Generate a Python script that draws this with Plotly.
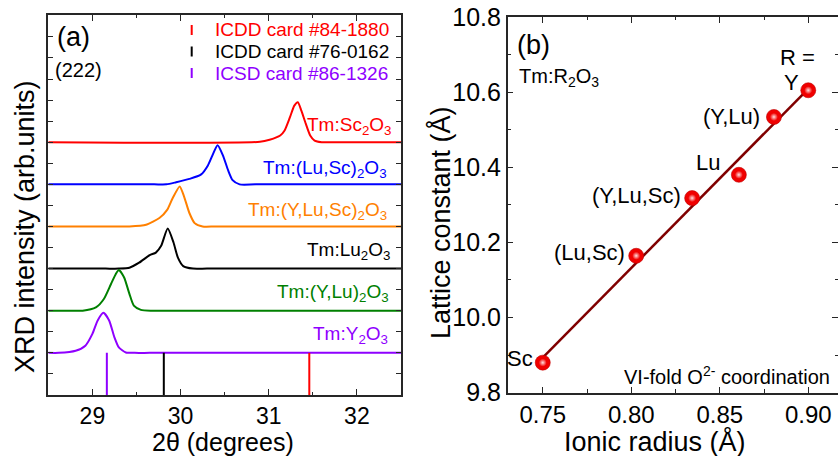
import numpy as np
import plotly.graph_objects as go

W, H = 838, 456
FONT = "Arial, Liberation Sans, sans-serif"

# ---------------- (a) XRD (222) reflection ----------------
sample_names = [
    "Tm:Sc<sub>2</sub>O<sub>3</sub>",
    "Tm:(Lu,Sc)<sub>2</sub>O<sub>3</sub>",
    "Tm:(Y,Lu,Sc)<sub>2</sub>O<sub>3</sub>",
    "Tm:Lu<sub>2</sub>O<sub>3</sub>",
    "Tm:(Y,Lu)<sub>2</sub>O<sub>3</sub>",
    "Tm:Y<sub>2</sub>O<sub>3</sub>",
]
sample_colors = ["#ff0000", "#0000ff", "#ff8000", "#000000", "#008000", "#8f00ff"]
sample_offsets = [6, 5, 4, 3, 2, 1]

two_theta_sc = [28.5, 30.9, 31.01, 31.13, 31.18, 31.24, 31.29, 31.33, 31.37, 31.42, 31.47, 31.52, 31.6, 31.8, 32.5]
int_sc = [0, 0.01, 0.06, 0.16, 0.28, 0.59, 0.87, 0.95, 0.75, 0.44, 0.16, 0.04, 0.0, 0.0, 0.0]

two_theta_lusc = [28.5, 29.7, 29.84, 29.95, 30.10, 30.23, 30.31, 30.37, 30.42, 30.48, 30.54, 30.59, 30.67, 30.85, 32.5]
int_lusc = [0, 0, 0.0, 0.05, 0.13, 0.23, 0.45, 0.73, 0.93, 0.69, 0.33, 0.10, 0.0, 0.0, 0.0]

two_theta_ylusc = [28.5, 29.3, 29.42, 29.61, 29.76, 29.85, 29.91, 29.99, 30.04, 30.10, 30.16, 30.25, 30.4, 32.5]
int_ylusc = [0, 0, 0.0, 0.04, 0.2, 0.4, 0.67, 0.95, 0.71, 0.32, 0.08, 0.0, 0.0, 0.0]

two_theta_lu = [28.5, 29.15, 29.30, 29.42, 29.53, 29.65, 29.72, 29.78, 29.854, 29.92, 29.97, 30.03, 30.14, 30.3, 32.5]
int_lu = [0, 0, 0.0, 0.02, 0.14, 0.32, 0.38, 0.54, 0.95, 0.62, 0.26, 0.06, 0.0, 0.0, 0.0]

two_theta_ylu = [28.5, 28.75, 28.89, 29.04, 29.13, 29.21, 29.27, 29.30, 29.36, 29.42, 29.47, 29.55, 29.67, 29.85, 32.5]
int_ylu = [0, 0, 0.0, 0.08, 0.28, 0.63, 0.89, 0.97, 0.79, 0.40, 0.12, 0.02, 0.0, 0.0, 0.0]

two_theta_y = [28.5, 28.62, 28.81, 28.92, 29.00, 29.06, 29.125, 29.19, 29.25, 29.30, 29.38, 29.48, 29.65, 32.5]
int_y = [0, 0.0, 0.05, 0.17, 0.45, 0.77, 0.95, 0.77, 0.37, 0.13, 0.01, 0.0, 0.0, 0.0]

sample_two_theta = [two_theta_sc, two_theta_lusc, two_theta_ylusc, two_theta_lu, two_theta_ylu, two_theta_y]
sample_intensity = [int_sc, int_lusc, int_ylusc, int_lu, int_ylu, int_y]

# reference card positions of the (222) line
card_names = ["ICDD card #84-1880", "ICDD card #76-0162", "ICSD card #86-1326"]
card_two_theta = [31.46, 29.81, 29.164]
card_height = [1.0, 1.0, 1.0]
card_colors = ["#ff0000", "#000000", "#8f00ff"]

# ---------------- (b) lattice constant vs ionic radius ----------------
host_labels = ["Sc", "(Lu,Sc)", "(Y,Lu,Sc)", "Lu", "(Y,Lu)", "Y"]
ionic_radius = [0.750, 0.8028, 0.8344, 0.8608, 0.8806, 0.900]
lattice_const = [9.880, 10.1645, 10.318, 10.380, 10.534, 10.605]


def paper(px, py):
    return px / W, 1 - py / H


fig = go.Figure()

# XRD patterns, stacked by offset
for name, col, off, tt, inten in zip(sample_names, sample_colors, sample_offsets,
                                     sample_two_theta, sample_intensity):
    fig.add_trace(go.Scatter(
        x=tt, y=[off + v for v in inten], mode="lines",
        line=dict(color=col, width=2, shape="spline", smoothing=0.6),
        xaxis="x", yaxis="y", showlegend=False, hoverinfo="skip"))

# reference card stems
for pos, h, col in zip(card_two_theta, card_height, card_colors):
    fig.add_trace(go.Scatter(
        x=[pos, pos], y=[0, h], mode="lines",
        line=dict(color=col, width=2),
        xaxis="x", yaxis="y", showlegend=False, hoverinfo="skip"))

# linear fit of lattice constant
slope, intercept = np.polyfit(ionic_radius, lattice_const, 1)
fit_x = np.array([min(ionic_radius), max(ionic_radius)])
fig.add_trace(go.Scatter(
    x=fit_x, y=slope * fit_x + intercept, mode="lines",
    line=dict(color="#800000", width=2.5),
    xaxis="x2", yaxis="y2", showlegend=False, hoverinfo="skip"))

# shaded spheres: solid ball plus a bright radial core
fig.add_trace(go.Scatter(
    x=ionic_radius, y=lattice_const, mode="markers",
    marker=dict(size=15, color="#f00000", line=dict(color="#c00000", width=0.6)),
    xaxis="x2", yaxis="y2", showlegend=False, hoverinfo="skip"))
fig.add_trace(go.Scatter(
    x=ionic_radius, y=lattice_const, mode="markers",
    marker=dict(size=8, color="#f00000", line=dict(width=0),
                gradient=dict(type="radial", color="#ffe0e0")),
    xaxis="x2", yaxis="y2", showlegend=False, hoverinfo="skip"))

axis_common = dict(
    showline=True, linecolor="#262626", linewidth=1.5, mirror="ticks",
    ticks="inside", tickcolor="#262626", tickwidth=1.3, ticklen=6,
    showgrid=False, zeroline=False, automargin=False,
)

fig.update_layout(
    width=W, height=H,
    margin=dict(l=0, r=0, t=0, b=0, pad=0, autoexpand=False),
    paper_bgcolor="white", plot_bgcolor="white",
    font=dict(family=FONT, color="black"),
    xaxis=dict(axis_common, domain=[48.3 / W, 401 / W], range=[28.5, 32.5],
               dtick=1, tick0=29, tickfont=dict(size=23), anchor="y", ticklabelstandoff=0,
               minor=dict(dtick=0.5, ticklen=3.5, ticks="inside", tickcolor="#262626")),
    yaxis=dict(axis_common, domain=[1 - 395 / H, 1 - 15 / H], range=[0, 9.02],
               dtick=0.5, tick0=0, ticklen=5, showticklabels=False, anchor="x"),
    xaxis2=dict(axis_common, domain=[507.7 / W, 1.0], range=[0.7302, 0.9168],
                dtick=0.05, tick0=0.75, tickformat=".2f", tickfont=dict(size=24), anchor="y2",
                ticklabelstandoff=0,
                minor=dict(dtick=0.025, ticklen=3.5, ticks="inside", tickcolor="#262626")),
    yaxis2=dict(axis_common, domain=[1 - 392.7 / H, 1 - 17 / H], range=[9.8, 10.8],
                dtick=0.2, tick0=9.8, tickformat=".1f", tickfont=dict(size=25), anchor="x2",
                minor=dict(dtick=0.1, ticklen=3.5, ticks="inside", tickcolor="#262626")),
)

ann = []


def text_at(px, py, text, size, color="black", xanchor="center", yanchor="middle", angle=0):
    x, y = paper(px, py)
    ann.append(dict(x=x, y=y, xref="paper", yref="paper", text=text, showarrow=False,
                    xanchor=xanchor, yanchor=yanchor, textangle=angle,
                    font=dict(size=size, color=color, family=FONT)))


# axis titles
text_at(223, 442, "2\u03b8 (degrees)", 25)
text_at(25, 227, "XRD intensity (arb.units)", 27, angle=-90)
text_at(440, 223, "Lattice constant (\u00c5)", 27, angle=-90)
text_at(655, 441, "Ionic radius (\u00c5)", 27)

# panel (a) annotations
text_at(55, 37, "(a)", 27, xanchor="left")
text_at(53, 70, "(222)", 20, xanchor="left")

# sample labels beside each pattern
label_right = [393, 389, 389, 392, 391, 390]
label_lift = [0.38, 0.37, 0.36, 0.42, 0.41, 0.42]
for name, col, off, rx, lift in zip(sample_names, sample_colors, sample_offsets, label_right, label_lift):
    ann.append(dict(x=rx / W, y=off + lift, xref="paper", yref="y", text=name,
                    showarrow=False, xanchor="right", yanchor="middle",
                    font=dict(size=19, color=col, family=FONT)))

# card key: short vertical glyph plus text
key_rows = [30, 51.5, 73]
shapes = []
for name, col, ry in zip(card_names, card_colors, key_rows):
    x0, y0 = paper(191.7, ry - 5)
    x1, y1 = paper(191.7, ry + 5)
    shapes.append(dict(type="line", xref="paper", yref="paper", x0=x0, x1=x1, y0=y0, y1=y1,
                       line=dict(color=col, width=2)))
    text_at(213, ry, name, 19, color=col, xanchor="left")

# panel (b) annotations
text_at(515, 45, "(b)", 27, xanchor="left")
text_at(517, 78, "Tm:R<sub>2</sub>O<sub>3</sub>", 20, xanchor="left")
text_at(832, 375, "VI-fold O<sup>2-</sup> coordination", 20, xanchor="right")

# host labels next to each point
label_shift = {
    "Sc": (-8, 4, "right"),
    "(Lu,Sc)": (-9, 3, "right"),
    "(Y,Lu,Sc)": (-9, 3, "right"),
    "Lu": (-17, 12, "right"),
    "(Y,Lu)": (-12, 0, "right"),
    "Y": (-17, 8, "center"),
}
for lab, rx, ly in zip(host_labels, ionic_radius, lattice_const):
    dx, dy, xa = label_shift[lab]
    ann.append(dict(x=rx, y=ly, xref="x2", yref="y2", text=lab, showarrow=False,
                    xanchor=xa, yanchor="middle", xshift=dx, yshift=dy,
                    font=dict(size=22, color="black", family=FONT)))
    if lab == "Y":
        ann.append(dict(x=rx, y=ly, xref="x2", yref="y2", text="R =", showarrow=False,
                        xanchor="center", yanchor="middle", xshift=-11, yshift=33,
                        font=dict(size=22, color="black", family=FONT)))

fig.update_layout(annotations=ann, shapes=shapes)

fig.write_html("out.html")
